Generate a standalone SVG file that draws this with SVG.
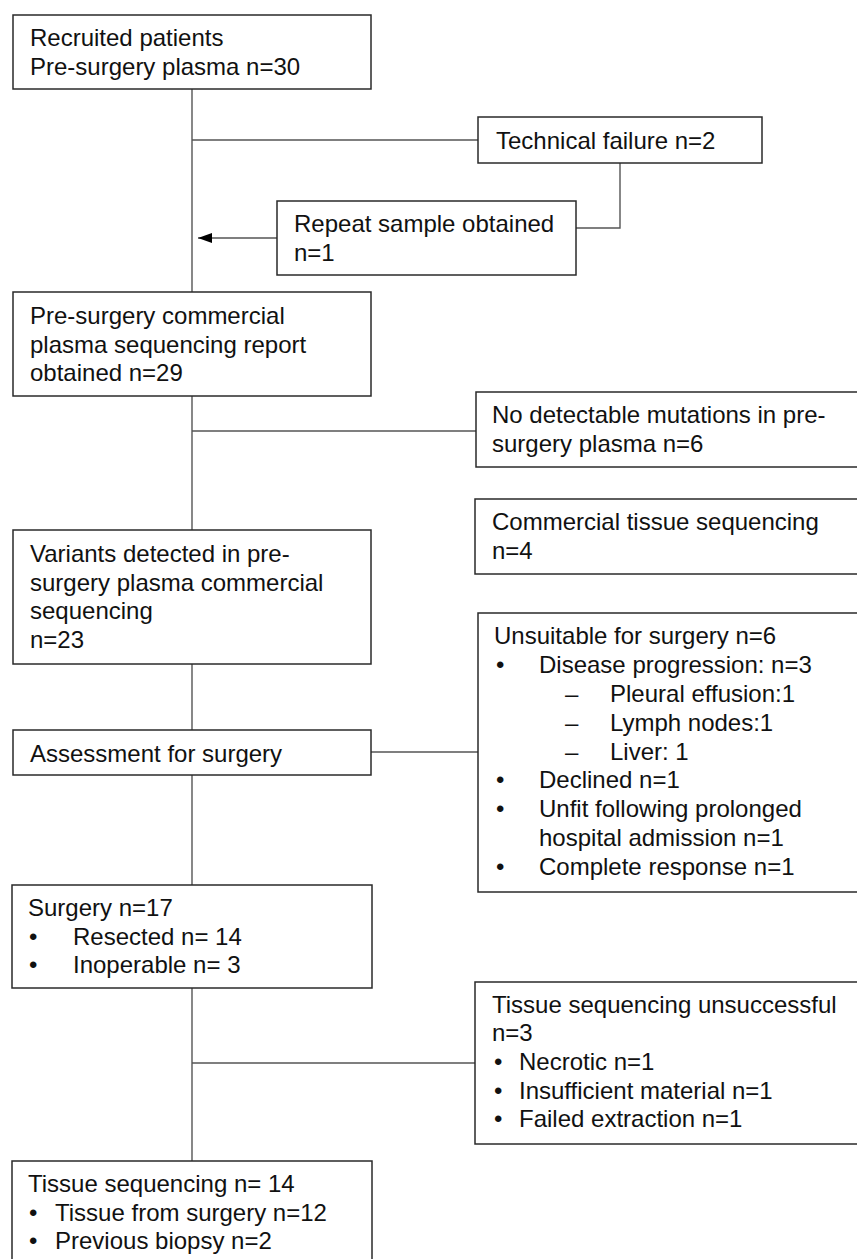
<svg xmlns="http://www.w3.org/2000/svg" width="857" height="1259" viewBox="0 0 857 1259">
<style>
.box{fill:#fff;stroke:#2a2a2a;stroke-width:1.5}
.t{font-family:"Liberation Sans",Arial,sans-serif;font-size:24px;fill:#111}
.ln{fill:none;stroke:#555;stroke-width:1.4}
</style>
<defs>
<marker id="ah" markerWidth="14" markerHeight="10" refX="14" refY="5" orient="auto" markerUnits="userSpaceOnUse">
<path d="M0,0 L14,5 L0,10 Z" fill="#000"/>
</marker>
</defs>
<rect width="857" height="1259" fill="#fff"/>
<g id="connectors">
<line class="ln" x1="192" y1="89" x2="192" y2="292"/>
<line class="ln" x1="192" y1="140" x2="478" y2="140"/>
<polyline class="ln" points="620,163 620,228 576,228"/>
<line class="ln" x1="277" y1="238" x2="198" y2="238" marker-end="url(#ah)"/>
<line class="ln" x1="192" y1="396" x2="192" y2="530"/>
<line class="ln" x1="192" y1="431" x2="476" y2="431"/>
<line class="ln" x1="192" y1="664" x2="192" y2="730"/>
<line class="ln" x1="371" y1="752" x2="478" y2="752"/>
<line class="ln" x1="192" y1="775" x2="192" y2="885"/>
<line class="ln" x1="192" y1="988" x2="192" y2="1161"/>
<line class="ln" x1="192" y1="1063" x2="475" y2="1063"/>
</g>
<g id="recruited">
<rect class="box" x="13" y="15" width="358" height="74"/>
<text class="t" x="30" y="46">Recruited patients</text>
<text class="t" x="30" y="75">Pre-surgery plasma n=30</text>
</g>
<g id="technical-failure">
<rect class="box" x="478" y="117" width="284" height="46"/>
<text class="t" x="496" y="149">Technical failure n=2</text>
</g>
<g id="repeat-sample">
<rect class="box" x="277" y="201" width="299" height="74"/>
<text class="t" x="294" y="232">Repeat sample obtained</text>
<text class="t" x="294" y="261">n=1</text>
</g>
<g id="report-obtained">
<rect class="box" x="13" y="292" width="358" height="104"/>
<text class="t" x="30" y="324">Pre-surgery commercial</text>
<text class="t" x="30" y="353">plasma sequencing report</text>
<text class="t" x="30" y="381">obtained n=29</text>
</g>
<g id="no-detectable">
<rect class="box" x="476" y="392" width="400" height="75"/>
<text class="t" x="492" y="423">No detectable mutations in pre-</text>
<text class="t" x="492" y="452">surgery plasma n=6</text>
</g>
<g id="commercial-tissue">
<rect class="box" x="475" y="499" width="400" height="75"/>
<text class="t" x="492" y="530">Commercial tissue sequencing</text>
<text class="t" x="492" y="559">n=4</text>
</g>
<g id="variants-detected">
<rect class="box" x="13" y="530" width="358" height="134"/>
<text class="t" x="30" y="562">Variants detected in pre-</text>
<text class="t" x="30" y="591">surgery plasma commercial</text>
<text class="t" x="30" y="619">sequencing</text>
<text class="t" x="30" y="648">n=23</text>
</g>
<g id="assessment">
<rect class="box" x="13" y="730" width="358" height="45"/>
<text class="t" x="30" y="762">Assessment for surgery</text>
</g>
<g id="unsuitable">
<rect class="box" x="478" y="613" width="400" height="279"/>
<text class="t" x="494" y="644">Unsuitable for surgery n=6</text>
<text class="t" x="496" y="673">•</text>
<text class="t" x="539" y="673">Disease progression: n=3</text>
<text class="t" x="565" y="702">–</text>
<text class="t" x="610" y="702">Pleural effusion:1</text>
<text class="t" x="565" y="731">–</text>
<text class="t" x="610" y="731">Lymph nodes:1</text>
<text class="t" x="565" y="760">–</text>
<text class="t" x="610" y="760">Liver: 1</text>
<text class="t" x="496" y="788">•</text>
<text class="t" x="539" y="788">Declined n=1</text>
<text class="t" x="496" y="817">•</text>
<text class="t" x="539" y="817">Unfit following prolonged</text>
<text class="t" x="539" y="846">hospital admission n=1</text>
<text class="t" x="496" y="875">•</text>
<text class="t" x="539" y="875">Complete response n=1</text>
</g>
<g id="surgery">
<rect class="box" x="12" y="885" width="360" height="103"/>
<text class="t" x="28" y="916">Surgery n=17</text>
<text class="t" x="29" y="945">•</text>
<text class="t" x="73" y="945">Resected n= 14</text>
<text class="t" x="29" y="973">•</text>
<text class="t" x="73" y="973">Inoperable n= 3</text>
</g>
<g id="tissue-unsuccessful">
<rect class="box" x="475" y="982" width="400" height="162"/>
<text class="t" x="492" y="1013">Tissue sequencing unsuccessful</text>
<text class="t" x="492" y="1041">n=3</text>
<text class="t" x="494" y="1070">•</text>
<text class="t" x="519" y="1070">Necrotic n=1</text>
<text class="t" x="494" y="1099">•</text>
<text class="t" x="519" y="1099">Insufficient material n=1</text>
<text class="t" x="494" y="1127">•</text>
<text class="t" x="519" y="1127">Failed extraction n=1</text>
</g>
<g id="tissue-sequencing">
<rect class="box" x="12" y="1161" width="360" height="120"/>
<text class="t" x="28" y="1192">Tissue sequencing n= 14</text>
<text class="t" x="29" y="1221">•</text>
<text class="t" x="55" y="1221">Tissue from surgery n=12</text>
<text class="t" x="29" y="1249">•</text>
<text class="t" x="55" y="1249">Previous biopsy n=2</text>
</g>
</svg>
